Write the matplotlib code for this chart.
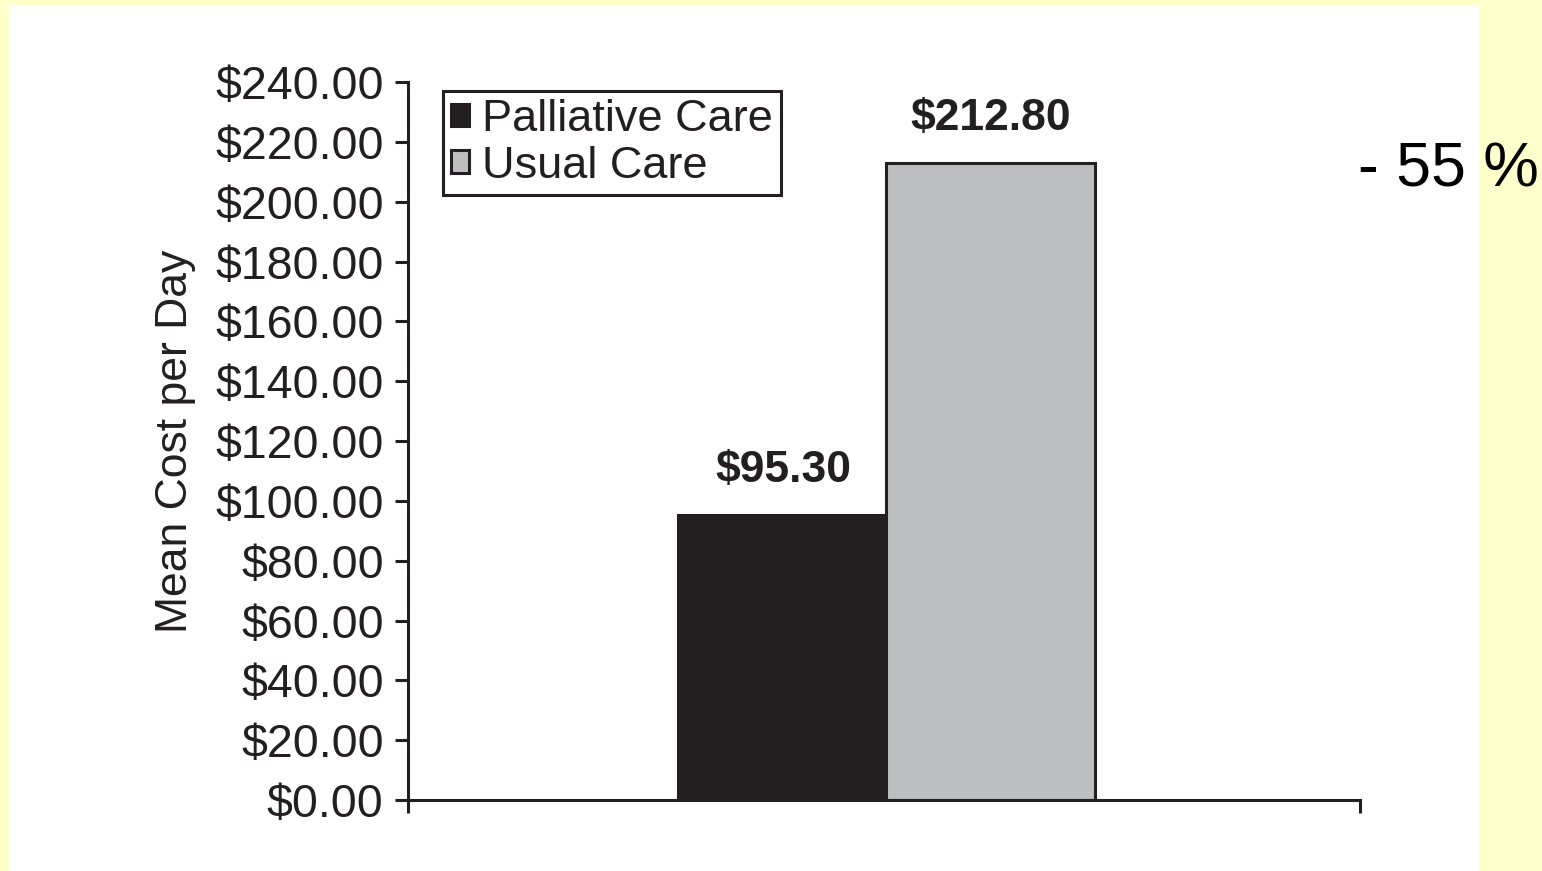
import matplotlib.pyplot as plt
from matplotlib.patches import Rectangle

# -----------------------
# DATA
# -----------------------

groups = ["Palliative Care", "Usual Care"]
mean_cost = [95.30, 212.80]
value_labels = ["$95.30", "$212.80"]
y_ticks = [0, 20, 40, 60, 80, 100, 120, 140, 160, 180, 200, 220, 240]
reduction_text = "- 55 %"

bar_colors = ["#231f20", "#bcbec0"]
ink = "#231f20"

plt.rcParams['font.family'] = ['Liberation Sans', 'DejaVu Sans']

# -----------------------
# FIGURE
# -----------------------

fig = plt.figure(figsize=(15.42, 8.71), dpi=100)
fig.patch.set_facecolor("#ffffcc")

# white panel behind the chart
fig.patches.append(Rectangle((10 / 1542, 0), 1469 / 1542, 1 - 6 / 871,
                             transform=fig.transFigure, facecolor="white",
                             edgecolor="none", zorder=-10))

ax = fig.add_axes([408 / 1542, 1 - 800 / 871, 952 / 1542, 718 / 871])
ax.set_facecolor("none")
ax.set_zorder(5)

width = 0.22
centers = [-0.106, 0.112]
for c, v, col, name in zip(centers, mean_cost, bar_colors, groups):
    ax.bar(c, v, width=width, color=col, edgecolor=ink, linewidth=2.2,
           label=name, zorder=2)

for c, v, lab in zip(centers, mean_cost, value_labels):
    ax.text(c, v + 8, lab, ha="center", va="bottom", fontsize=32,
            fontweight="bold", color=ink)

ax.set_xlim(-0.5, 0.5)
ax.set_ylim(0, 240)
ax.set_yticks(y_ticks)
ax.set_yticklabels(["${:.2f}".format(t) for t in y_ticks])
ax.set_xticks([-0.5, 0.5])
ax.set_xticklabels(["", ""])

ax.spines["top"].set_visible(False)
ax.spines["right"].set_visible(False)
for s in ["left", "bottom"]:
    ax.spines[s].set_linewidth(2.2)
    ax.spines[s].set_color(ink)

ax.tick_params(axis="both", direction="out", length=9.5, width=2.2,
               color=ink, labelsize=33.5, labelcolor=ink, pad=8)

ax.set_ylabel("Mean Cost per Day", fontsize=32, color=ink, labelpad=14)

leg = ax.legend(loc="upper left", bbox_to_anchor=(0.0368, 0.9875),
                borderaxespad=0, fontsize=32.5, frameon=True, fancybox=False,
                framealpha=1, handlelength=0.4, handleheight=0.4,
                handletextpad=0.28, labelspacing=0.12, borderpad=0.18)
leg.get_frame().set_edgecolor(ink)
leg.get_frame().set_linewidth(2.2)
for t in leg.get_texts():
    t.set_color(ink)

fig.text(1358 / 1542, 1 - 170 / 871, reduction_text, fontsize=45,
         ha="left", va="center", color="black", zorder=10)

fig.savefig("out.png", dpi=100, facecolor=fig.get_facecolor())
